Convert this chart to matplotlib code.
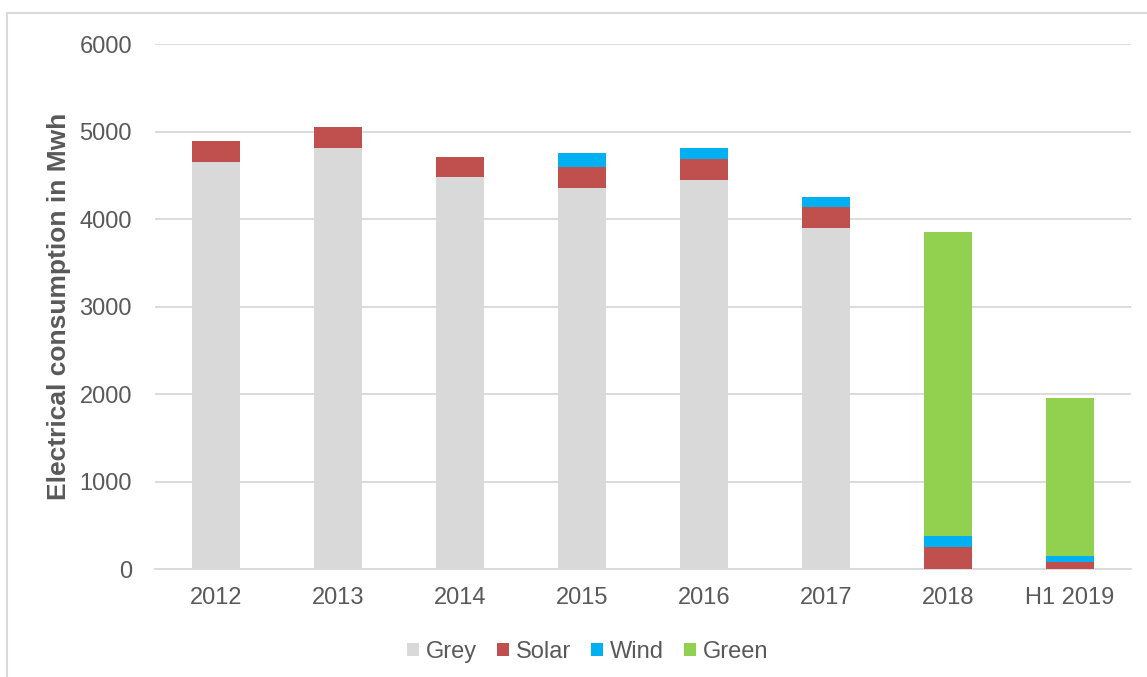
import matplotlib
matplotlib.use("Agg")
import matplotlib.pyplot as plt
import numpy as np
from matplotlib.patches import Rectangle

years = ["2012", "2013", "2014", "2015", "2016", "2017", "2018", "H1 2019"]
grey = [4650, 4810, 4480, 4350, 4445, 3895, 0, 0]
solar = [240, 240, 230, 240, 240, 240, 250, 75]
wind = [0, 0, 0, 160, 125, 115, 130, 70]
green = [0, 0, 0, 0, 0, 0, 3470, 1810]

series = [("Grey", grey, "#D9D9D9"), ("Solar", solar, "#C0504D"),
          ("Wind", wind, "#00B0F0"), ("Green", green, "#92D050")]
txt = "#595959"

plt.rcParams["font.family"] = ["Liberation Sans", "DejaVu Sans"]
fig = plt.figure(figsize=(11.47, 6.77), dpi=100)
ax = fig.add_axes([0.135, 0.1595, 0.851, 0.7755])

x = np.arange(len(years))
bottom = np.zeros(len(years))
for name, vals, col in series:
    ax.bar(x, vals, 0.39, bottom=bottom, color=col, label=name, zorder=3)
    bottom += np.array(vals)

ax.set_ylim(0, 6000)
ax.set_xlim(-0.5, len(years) - 0.5)
ax.set_yticks(range(0, 6001, 1000))
ax.set_xticks(x)
ax.set_xticklabels(years)
ax.yaxis.grid(True, color="#D9D9D9", lw=1.3, zorder=0)
ax.tick_params(length=0, labelsize=17, colors=txt)
ax.tick_params(axis="x", pad=13)
ax.tick_params(axis="y", pad=16.5)
for s in ["top", "right", "left"]:
    ax.spines[s].set_visible(False)
ax.spines["bottom"].set_color("#D9D9D9")
ax.spines["bottom"].set_linewidth(1.3)
ax.set_ylabel("Electrical consumption in Mwh", fontsize=19, fontweight="bold",
              color=txt, labelpad=6)

ax.legend(loc="center", bbox_to_anchor=(0.4437, -0.158), ncol=4, frameon=False,
          fontsize=17, labelcolor=txt, handlelength=0.5, handleheight=0.5,
          handletextpad=0.3, columnspacing=0.85)

fig.patches.append(Rectangle((7 / 1147, -0.01), 1.2, 1 - 13 / 677 + 0.01,
                             transform=fig.transFigure, fill=False,
                             edgecolor="#D9D9D9", lw=1.5))
fig.savefig("out.png", dpi=100)
